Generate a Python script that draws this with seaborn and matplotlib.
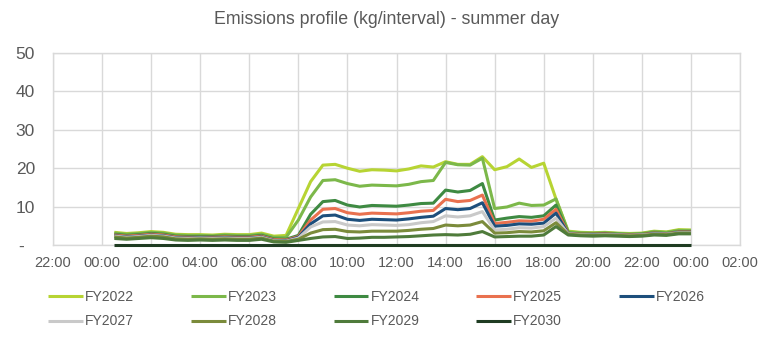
import matplotlib
matplotlib.use("Agg")
import matplotlib.pyplot as plt
import seaborn as sns
import pandas as pd

# Half-hourly interval end times (hours after midnight)
hours = [0.5, 1.0, 1.5, 2.0, 2.5, 3.0, 3.5, 4.0, 4.5, 5.0, 5.5, 6.0,
         6.5, 7.0, 7.5, 8.0, 8.5, 9.0, 9.5, 10.0, 10.5, 11.0, 11.5, 12.0,
         12.5, 13.0, 13.5, 14.0, 14.5, 15.0, 15.5, 16.0, 16.5, 17.0, 17.5, 18.0,
         18.5, 19.0, 19.5, 20.0, 20.5, 21.0, 21.5, 22.0, 22.5, 23.0, 23.5, 24.0]

fy2022 = [3.3, 3.0, 3.2, 3.5, 3.3, 2.8, 2.7, 2.7, 2.6, 2.8, 2.7, 2.7, 3.1, 2.3, 2.5,
          9.5, 16.5, 20.8, 21.0, 20.0, 19.2, 19.6, 19.5, 19.3, 19.8, 20.6, 20.3,
          21.7, 21.0, 21.0, 23.0, 19.6, 20.4, 22.4, 20.2, 21.3, 12.0,
          3.6, 3.3, 3.2, 3.3, 3.1, 3.0, 3.1, 3.6, 3.4, 4.0, 3.9]
fy2023 = [3.1, 2.8, 3.0, 3.3, 3.1, 2.6, 2.5, 2.5, 2.4, 2.6, 2.5, 2.5, 2.8, 2.0, 2.0,
          6.5, 12.5, 16.8, 17.0, 16.0, 15.3, 15.6, 15.5, 15.4, 15.8, 16.5, 16.8,
          21.5, 20.9, 20.8, 22.6, 9.5, 9.9, 10.9, 10.3, 10.4, 12.0,
          3.4, 3.2, 3.1, 3.2, 3.0, 2.9, 3.0, 3.5, 3.3, 3.8, 3.8]
fy2024 = [2.8, 2.5, 2.7, 3.0, 2.8, 2.3, 2.2, 2.2, 2.2, 2.3, 2.2, 2.2, 2.5, 1.6, 1.5,
          2.5, 8.0, 11.3, 11.6, 10.4, 9.9, 10.3, 10.2, 10.1, 10.4, 10.8, 10.9,
          14.3, 13.8, 14.2, 16.0, 6.5, 7.0, 7.4, 7.2, 7.6, 10.4,
          3.1, 2.9, 2.9, 3.0, 2.8, 2.7, 2.8, 3.2, 3.0, 3.5, 3.5]
fy2025 = [2.6, 2.3, 2.5, 2.8, 2.6, 2.1, 2.0, 2.0, 2.0, 2.1, 2.0, 2.0, 2.3, 1.4, 1.3,
          2.2, 6.5, 9.3, 9.5, 8.4, 8.0, 8.3, 8.2, 8.1, 8.4, 8.8, 9.0,
          11.9, 11.3, 11.6, 13.0, 5.6, 5.9, 6.3, 6.2, 6.7, 9.3,
          3.0, 2.8, 2.8, 2.9, 2.7, 2.6, 2.7, 3.1, 2.9, 3.4, 3.4]
fy2026 = [2.4, 2.1, 2.3, 2.6, 2.4, 1.9, 1.8, 1.9, 1.8, 1.9, 1.8, 1.8, 2.1, 1.2, 1.1,
          2.0, 5.5, 7.6, 7.8, 6.7, 6.4, 6.7, 6.6, 6.5, 6.8, 7.2, 7.5,
          9.5, 9.2, 9.5, 11.0, 4.9, 5.1, 5.5, 5.4, 5.7, 8.3,
          2.9, 2.7, 2.7, 2.8, 2.6, 2.5, 2.6, 3.0, 2.8, 3.3, 3.3]
fy2027 = [2.3, 2.0, 2.2, 2.5, 2.3, 1.8, 1.7, 1.8, 1.7, 1.8, 1.7, 1.7, 2.0, 1.1, 1.0,
          1.8, 4.7, 6.0, 6.1, 5.2, 5.0, 5.3, 5.2, 5.1, 5.3, 5.8, 6.1,
          7.6, 7.3, 7.6, 8.7, 3.9, 4.1, 4.5, 4.4, 4.8, 7.0,
          2.9, 2.7, 2.6, 2.7, 2.6, 2.5, 2.6, 2.9, 2.8, 3.2, 3.2]
fy2028 = [2.1, 1.8, 2.0, 2.3, 2.1, 1.6, 1.5, 1.6, 1.5, 1.6, 1.5, 1.5, 1.8, 1.0, 0.9,
          1.5, 3.1, 4.0, 4.1, 3.5, 3.4, 3.6, 3.6, 3.6, 3.8, 4.1, 4.3,
          5.2, 5.0, 5.2, 6.1, 3.1, 3.2, 3.5, 3.4, 3.7, 5.8,
          2.8, 2.6, 2.5, 2.6, 2.5, 2.4, 2.5, 2.8, 2.7, 3.1, 3.1]
fy2029 = [1.7, 1.5, 1.7, 1.9, 1.7, 1.3, 1.2, 1.3, 1.2, 1.3, 1.2, 1.2, 1.5, 0.8, 0.7,
          1.2, 1.7, 2.1, 2.2, 1.7, 1.8, 2.0, 2.0, 2.1, 2.2, 2.4, 2.6,
          2.7, 2.6, 2.8, 3.5, 2.1, 2.2, 2.3, 2.3, 2.6, 4.8,
          2.6, 2.4, 2.3, 2.4, 2.3, 2.2, 2.3, 2.6, 2.5, 2.9, 2.9]
fy2030 = [0.0, 0.0, 0.0, 0.0, 0.0, 0.0, 0.0, 0.0, 0.0, 0.0, 0.0, 0.0,
          0.0, 0.0, 0.0, 0.0, 0.0, 0.0, 0.0, 0.0, 0.0, 0.0, 0.0, 0.0,
          0.0, 0.0, 0.0, 0.0, 0.0, 0.0, 0.0, 0.0, 0.0, 0.0, 0.0, 0.0,
          0.0, 0.0, 0.0, 0.0, 0.0, 0.0, 0.0, 0.0, 0.0, 0.0, 0.0, 0.0]

series_names = ["FY2022", "FY2023", "FY2024", "FY2025", "FY2026",
                "FY2027", "FY2028", "FY2029", "FY2030"]
series_values = [fy2022, fy2023, fy2024, fy2025, fy2026,
                 fy2027, fy2028, fy2029, fy2030]
colors = ["#b7d433", "#7cb84a", "#3e8a42", "#e9714f", "#1d4f7c",
          "#c9c9c9", "#7b8b3b", "#4f7b3b", "#1f3c22"]

x_ticks = [-2, 0, 2, 4, 6, 8, 10, 12, 14, 16, 18, 20, 22, 24, 26]
x_tick_labels = ["22:00", "00:00", "02:00", "04:00", "06:00", "08:00", "10:00",
                 "12:00", "14:00", "16:00", "18:00", "20:00", "22:00", "00:00", "02:00"]
y_ticks = [0, 10, 20, 30, 40, 50]
y_tick_labels = ["-  ", "10", "20", "30", "40", "50"]

rows = []
for name, vals in zip(series_names, series_values):
    for h, v in zip(hours, vals):
        rows.append({"hour": h, "kg": v, "year": name})
df = pd.DataFrame(rows)

sns.set_style("white")
plt.rcParams["font.family"] = ["Liberation Sans", "DejaVu Sans"]

text_grey = "#595959"
grid_grey = "#d9d9d9"

fig = plt.figure(figsize=(7.7, 3.44), dpi=100)
ax = fig.add_axes([53 / 770, 1 - 245 / 344, (740 - 53) / 770, (245 - 53) / 344])

sns.lineplot(data=df, x="hour", y="kg", hue="year", hue_order=series_names,
             palette=colors, linewidth=2.2, ax=ax, legend=False)

lines = ax.get_lines()[:len(series_names)]
for ln in lines:
    ln.set_clip_on(False)
    ln.set_zorder(3)
    ln.set_solid_joinstyle("round")
    ln.set_solid_capstyle("butt")

ax.set_xlim(-2, 26)
ax.set_ylim(0, 50)
ax.set_xticks(x_ticks)
ax.set_xticklabels(x_tick_labels)
ax.set_yticks(y_ticks)
ax.set_yticklabels(y_tick_labels)
ax.tick_params(axis="x", length=0, pad=8, labelsize=10.5, labelcolor=text_grey)
ax.tick_params(axis="y", length=0, pad=13, labelsize=12.5, labelcolor=text_grey)
ax.set_xlabel("")
ax.set_ylabel("")
ax.grid(True, color=grid_grey, linewidth=1)
ax.set_axisbelow(True)
for sp in ax.spines.values():
    sp.set_color(grid_grey)
    sp.set_linewidth(1)
    sp.set_zorder(1)

fig.text(387 / 770, 1 - 20 / 344, "Emissions profile (kg/interval) - summer day",
         ha="center", va="center", fontsize=12.8, color=text_grey)

# Legend filled row by row (matplotlib fills columns first)
order = [0, 5, 1, 6, 2, 7, 3, 8, 4]
fig.legend([lines[i] for i in order], [series_names[i] for i in order],
           ncol=5, loc="upper left",
           bbox_to_anchor=(48 / 770, 1 - 290 / 344), frameon=False,
           fontsize=10, handlelength=2.5, handletextpad=0.15,
           columnspacing=4.1, labelspacing=0.75, borderpad=0, borderaxespad=0,
           labelcolor=text_grey)

fig.savefig("out.png", dpi=100)
